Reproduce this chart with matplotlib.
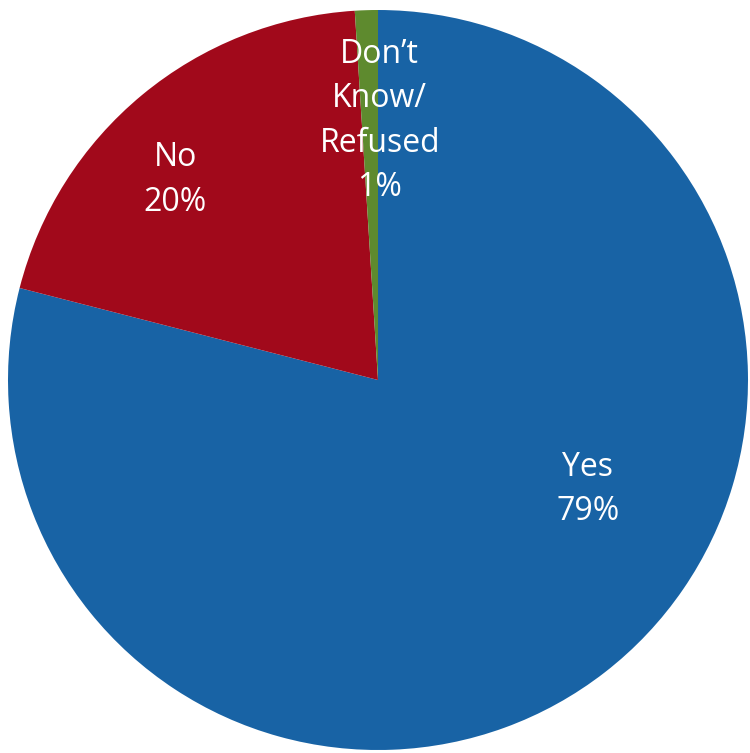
import numpy as np
import matplotlib.pyplot as plt

# data
labels = ["Yes", "No", "Don\u2019t\nKnow/\nRefused"]
values = [79, 20, 1]
colors = ["#1863A5", "#A1091B", "#5E8A2E"]

# label placement (radius fraction, angle in degrees)
label_pos = [(0.64, -27.6), (0.77, 135.4), (0.70, 89.6)]

fig = plt.figure(figsize=(7.5, 7.53), dpi=100)
ax = fig.add_axes([8 / 750, 3 / 753, 740 / 750, 740 / 753])

ax.pie(values, colors=colors, startangle=90, counterclock=False,
       radius=1, wedgeprops=dict(linewidth=0))

for lab, v, (r, a) in zip(labels, values, label_pos):
    x = r * np.cos(np.radians(a))
    y = r * np.sin(np.radians(a))
    ax.text(x, y, f"{lab}\n{v}%", ha="center", va="center", color="white",
            fontsize=23, family="Open Sans", linespacing=1.45)

ax.set_xlim(-1, 1)
ax.set_ylim(-1, 1)
ax.set_aspect("equal")
ax.axis("off")

fig.savefig("out.png", dpi=100)
